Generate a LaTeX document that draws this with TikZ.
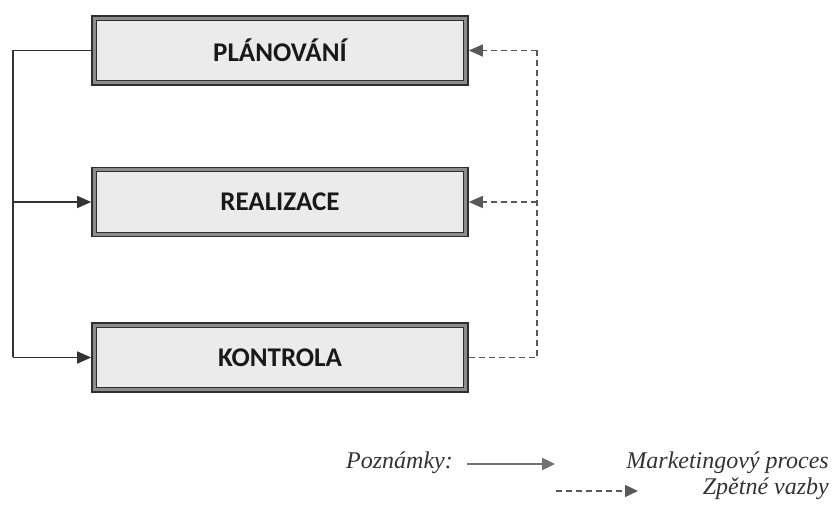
\documentclass[tikz,border=0pt]{standalone}
\usepackage{fontspec}
\setmainfont{Liberation Serif}
\newfontfamily\boxfont{Carlito}
\usetikzlibrary{arrows.meta}
\definecolor{boxfill}{HTML}{EBEBEB}
\definecolor{bandgray}{HTML}{8C8C8C}
\definecolor{edgegray}{HTML}{2E2E2E}
\tikzset{
  stagebox/.style={draw=edgegray, line width=1.6pt, fill=bandgray,
    minimum width=376pt, minimum height=69pt, inner sep=0pt},
  innerbox/.style={draw=edgegray, line width=1.3pt, fill=boxfill},
  boxlabel/.style={font=\boxfont\bfseries\fontsize{27}{31}\selectfont, text=black!90},
  flow/.style={line width=1.5pt, draw=black!80, -{Triangle[length=14pt,width=12pt]}},
  flowline/.style={line width=1.5pt, draw=black!80},
  fb/.style={line width=1.5pt, draw=black!65, dash pattern=on 6pt off 4pt, -{Triangle[length=14pt,width=12pt]}},
  fbline/.style={line width=1.5pt, draw=black!65, dash pattern=on 6pt off 4pt},
  legtext/.style={font=\itshape\fontsize{24}{28}\selectfont, text=black!80, inner sep=0pt}
}
\begin{document}
\begin{tikzpicture}[x=1pt,y=-1pt]
\useasboundingbox (0,0) rectangle (833,518);
% boxes
\node[stagebox] (p) at (280,50.5) {};
\node[stagebox] (r) at (280,202) {};
\node[stagebox] (k) at (280,357.5) {};
\draw[innerbox] ([shift={(5pt,-5pt)}]p.north west) rectangle ([shift={(-5pt,5pt)}]p.south east);
\draw[innerbox] ([shift={(5pt,-5pt)}]r.north west) rectangle ([shift={(-5pt,5pt)}]r.south east);
\draw[innerbox] ([shift={(5pt,-5pt)}]k.north west) rectangle ([shift={(-5pt,5pt)}]k.south east);
\node[boxlabel] (pt) at (p.center) {PLÁNOVÁNÍ};
\node[boxlabel] (rt) at (r.center) {REALIZACE};
\node[boxlabel] (kt) at (k.center) {KONTROLA};
% process flow
\coordinate (lt) at (13,50.5);
\coordinate (lm) at (13,202);
\coordinate (lb) at (13,357.5);
\draw[flowline] (p.west) -- (lt) -- (lb);
\draw[flow] (lm) -- (r.west);
\draw[flow] (lb) -- (k.west);
% feedback
\coordinate (rt1) at (537,50.5);
\coordinate (rm) at (537,202);
\coordinate (rb) at (537,357.5);
\draw[fbline] (k.east) -- (rb) -- (rt1);
\draw[fb] (rt1) -- (p.east);
\draw[fb] (rm) -- (r.east);
% legend
\node[legtext, anchor=east] (poz) at (453,463) {Poznámky:};
\coordinate (a1s) at (467,464);
\coordinate (a1e) at (555,464);
\draw[line width=2.4pt, draw=black!55, -{Triangle[length=13pt,width=12pt]}] (a1s) -- (a1e);
\node[legtext, anchor=east] (mp) at (829,463) {Marketingový proces};
\coordinate (a2s) at (556,491);
\coordinate (a2e) at (638,491);
\draw[line width=1.5pt, draw=black!65, dash pattern=on 6pt off 4pt, -{Triangle[length=13pt,width=12pt]}] (a2s) -- (a2e);
\node[legtext, anchor=east] (zv) at (829,489) {Zpětné vazby};
\end{tikzpicture}
\end{document}
